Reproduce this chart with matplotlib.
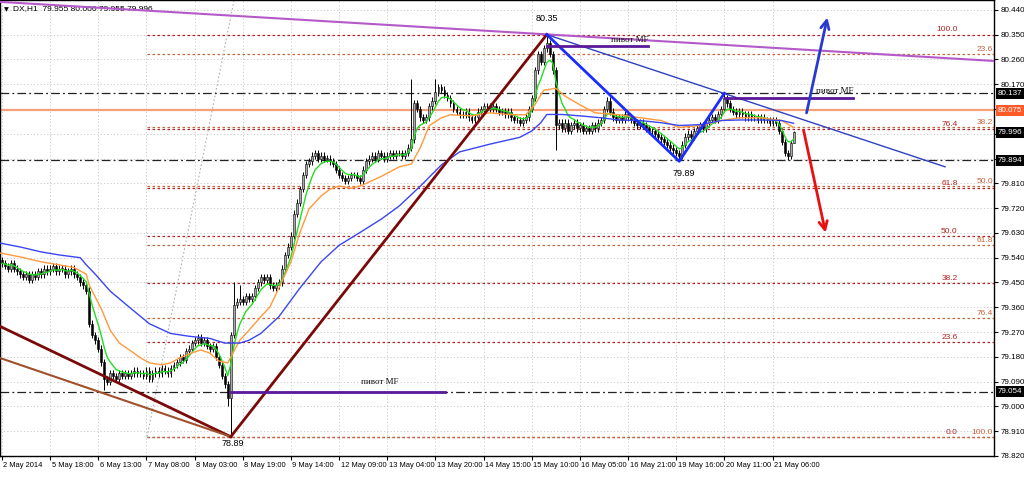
import numpy as np
import pandas as pd
import matplotlib
matplotlib.use("Agg")
import matplotlib.pyplot as plt
from matplotlib.transforms import blended_transform_factory

plt.rcParams["font.family"] = ["Liberation Sans", "DejaVu Sans"]

# ---------------- data (DX, H1) ----------------
closes = [
    79.52, 79.51, 79.50, 79.52, 79.50, 79.49, 79.48, 79.47, 79.48, 79.46,
    79.48, 79.47, 79.49, 79.48, 79.50, 79.49, 79.50, 79.51, 79.49, 79.50,
    79.50, 79.48, 79.49, 79.50, 79.48, 79.47, 79.45, 79.44, 79.42, 79.30,
    79.26, 79.24, 79.21, 79.16, 79.10, 79.09, 79.12, 79.11, 79.10, 79.12,
    79.11, 79.12, 79.11, 79.12, 79.13, 79.12, 79.12, 79.11, 79.13, 79.10,
    79.12, 79.13, 79.12, 79.14, 79.13, 79.12, 79.14, 79.15, 79.16, 79.18,
    79.17, 79.20, 79.21, 79.23, 79.24, 79.25, 79.23, 79.24, 79.22, 79.21,
    79.22, 79.18, 79.15, 79.11, 79.08, 79.03, 79.26, 79.37, 79.38, 79.39,
    79.38, 79.40, 79.39, 79.40, 79.43, 79.45, 79.47, 79.46, 79.47, 79.44,
    79.43, 79.44, 79.45, 79.50, 79.55, 79.58, 79.62, 79.70, 79.74, 79.79,
    79.84, 79.88, 79.89, 79.91, 79.92, 79.90, 79.91, 79.90, 79.90, 79.89,
    79.88, 79.86, 79.84, 79.83, 79.82, 79.83, 79.84, 79.84, 79.83, 79.82,
    79.86, 79.89, 79.90, 79.91, 79.90, 79.92, 79.91, 79.90, 79.91, 79.92,
    79.91, 79.92, 79.92, 79.91, 79.92, 79.94, 79.97, 80.10, 80.08, 80.05,
    80.04, 80.05, 80.09, 80.11, 80.14, 80.16, 80.15, 80.13, 80.12, 80.10,
    80.08, 80.07, 80.06, 80.06, 80.07, 80.05, 80.04, 80.05, 80.07, 80.08,
    80.09, 80.09, 80.08, 80.09, 80.08, 80.07, 80.07, 80.06, 80.07, 80.05,
    80.04, 80.04, 80.03, 80.04, 80.05, 80.08, 80.12, 80.22, 80.28, 80.25,
    80.30, 80.32, 80.28, 80.22, 80.02, 80.03, 80.01, 80.03, 80.00, 80.02,
    80.03, 80.01, 80.02, 80.00, 80.01, 80.00, 80.02, 80.01, 80.03, 80.04,
    80.08, 80.11, 80.07, 80.05, 80.04, 80.05, 80.04, 80.06, 80.05, 80.04,
    80.03, 80.02, 80.03, 80.02, 80.01, 80.00, 80.00, 79.99, 79.98, 79.97,
    79.96, 79.95, 79.94, 79.93, 79.92, 79.91, 79.95, 79.98, 79.99, 79.98,
    80.00, 80.01, 80.02, 80.01, 80.03, 80.04, 80.05, 80.04, 80.06, 80.08,
    80.12, 80.10, 80.08, 80.07, 80.06, 80.07, 80.06, 80.05, 80.06, 80.05,
    80.05, 80.04, 80.05, 80.04, 80.04, 80.03, 80.04, 80.03, 80.00, 79.96,
    79.92, 79.91, 79.955, 79.996,
]
first_open = 79.53
wick = 0.012
high_spikes = {76: 79.27, 77: 79.45, 79: 79.44, 136: 80.19, 144: 80.19,
               181: 80.35, 240: 80.137, 263: 80.000}
low_spikes = {34: 79.06, 75: 79.00, 76: 78.89, 184: 79.93, 225: 79.89,
              261: 79.894, 263: 79.955}

orange_bars = [-0.7, 6, 13, 19, 24, 28, 29, 33, 36, 39, 43, 46, 49, 53, 56, 59,
               63, 66, 69, 72, 75, 79, 82, 86, 89, 92, 96, 99, 102, 106, 109,
               112, 116, 119, 126, 132, 136, 139, 142, 146, 149, 156, 162, 169,
               174, 177, 180, 184, 187, 192, 197, 205, 212, 219, 225, 232, 239,
               245, 252, 259, 263]
orange_vals = [79.557, 79.543, 79.525, 79.514, 79.504, 79.48, 79.44, 79.354,
               79.276, 79.23, 79.20, 79.176, 79.158, 79.151, 79.158, 79.176,
               79.194, 79.205, 79.194, 79.165, 79.158, 79.24, 79.276, 79.326,
               79.361, 79.43, 79.525, 79.632, 79.717, 79.764, 79.789, 79.80,
               79.792, 79.80, 79.835, 79.87, 79.88, 79.94, 80.02, 80.048,
               80.059, 80.055, 80.066, 80.059, 80.059, 80.095, 80.148, 80.155,
               80.127, 80.095, 80.066, 80.059, 80.048, 80.038, 80.013, 80.02,
               80.038, 80.048, 80.048, 80.038, 80.013]
blue_bars = [-0.7, 6, 13, 19, 26, 28, 31, 36, 43, 49, 56, 62, 69, 74, 79, 82,
             86, 92, 99, 106, 112, 119, 126, 132, 139, 146, 152, 162, 172, 176,
             179, 181, 186, 192, 199, 205, 212, 219, 225, 232, 239, 245, 252,
             259, 263]
blue_vals = [79.593, 79.579, 79.561, 79.55, 79.54, 79.514, 79.48, 79.418,
             79.354, 79.30, 79.265, 79.255, 79.247, 79.23, 79.23, 79.24,
             79.265, 79.326, 79.43, 79.525, 79.585, 79.632, 79.68, 79.728,
             79.80, 79.877, 79.924, 79.952, 79.977, 80.0, 80.03, 80.06, 80.06,
             80.055, 80.048, 80.04, 80.038, 80.03, 80.02, 80.023, 80.038,
             80.04, 80.04, 80.038, 80.028]

date_ticks = list(range(0, 257, 16))
date_labels = ["2 May 2014", "5 May 18:00", "6 May 13:00", "7 May 08:00",
               "8 May 03:00", "8 May 19:00", "9 May 14:00", "12 May 09:00",
               "13 May 04:00", "13 May 20:00", "14 May 15:00", "15 May 10:00",
               "16 May 05:00", "16 May 21:00", "19 May 16:00", "20 May 11:00",
               "21 May 06:00"]
price_ticks = [80.44, 80.35, 80.26, 80.17, 80.08, 79.99, 79.90, 79.81, 79.72,
               79.63, 79.54, 79.45, 79.36, 79.27, 79.18, 79.09, 79.00, 78.91,
               78.82]
hidden_ticks = [80.08, 79.99, 79.90]

# swing points
low_bar, low_price = 76, 78.89
high_bar, high_price = 181, 80.35
mid_low_bar, mid_low_price = 225, 79.89
mid_high_bar, mid_high_price = 240, 80.137

# horizontal levels
level_dashdot = [80.137, 79.894, 79.054]
level_orange = 80.075
last_price = 79.996

# fibonacci
fib_start_bar = 48.2
fib_levels = [0.0, 23.6, 38.2, 50.0, 61.8, 76.4, 100.0]
fibA_0, fibA_100 = 78.89, 80.35
fibB_0, fibB_100 = 80.71, 78.89
fibB_diag_end_bar = 81.4

# trend lines (bar, price)
purple_line = [(-1.0, 80.469), (330.0, 80.254)]
maroon_left = [(-0.7, 79.291), (low_bar, low_price)]
sienna_left = [(-0.7, 79.176), (low_bar, low_price)]
thin_blue_end = (313.3, 79.87)
pivots = [((76, 79.054), (147.2, 79.054), (125.6, 79.087)),
          ((181, 80.31), (214.6, 80.31), (208.6, 80.332)),
          ((240.2, 80.12), (282.7, 80.12), (276.7, 80.147))]
blue_arrow = [(267.1, 80.056), (274.4, 80.422)]
red_arrow = [(266.1, 80.013), (273.8, 79.621)]

header = "DX,H1  79.955 80.000 79.955 79.996"

# ---------------- figure ----------------
W, H = 1024, 482
fig = plt.figure(figsize=(W / 100, H / 100), dpi=100)
fig.patch.set_facecolor("white")
ax = fig.add_axes([0.0, 1 - 456 / H, 994 / W, 456 / H])
ax.set_xlim(-0.66, 329.57)
ax.set_ylim(78.8522, 80.4756)

# grid
for t in date_ticks:
    ax.axvline(t, color="#c4c4c4", lw=0.6, ls=(0, (1.5, 2.5)), zorder=0)
for p in price_ticks:
    ax.axhline(p, color="#c4c4c4", lw=0.6, ls=(0, (1.5, 2.5)), zorder=0)

# fib levels
xe = 329.57
for lv in fib_levels:
    pa = fibA_0 + (fibA_100 - fibA_0) * lv / 100.0
    ax.plot([fib_start_bar, xe], [pa, pa], color="#b22222", lw=0.9,
            ls=(0, (2, 2)), zorder=1)
    ax.text(317.5, pa + 0.004, f"{lv:.1f}", color="#b22222", fontsize=6,
            ha="right", va="bottom", zorder=6)
    pb = fibB_0 + (fibB_100 - fibB_0) * lv / 100.0
    if pb < 80.47:
        ax.plot([fib_start_bar, xe], [pb, pb], color="#c8643c", lw=0.9,
                ls=(0, (2, 2)), zorder=1)
        ax.text(329.2, pb + 0.004, f"{lv:.1f}", color="#c8643c", fontsize=6,
                ha="right", va="bottom", zorder=6)
ax.plot([fib_start_bar, fibB_diag_end_bar], [fibB_100, fibB_0], color="#b0b0b0",
        lw=0.8, ls=(0, (1.5, 2)), zorder=1)

# horizontal lines
for lv in level_dashdot:
    ax.axhline(lv, color="#222222", lw=0.9, ls=(0, (7, 2.5, 1.5, 2.5)), zorder=2)
ax.axhline(level_orange, color="#f5a078", lw=1.6, zorder=2)

# candles
n = len(closes)
idx = np.arange(n)
opens = [first_open] + closes[:-1]
highs = [high_spikes.get(i, max(opens[i], closes[i]) + wick) for i in range(n)]
lows = [low_spikes.get(i, min(opens[i], closes[i]) - wick) for i in range(n)]
ax.vlines(idx, lows, highs, color="black", lw=0.7, zorder=3)
o = np.array(opens); c = np.array(closes)
bull = c >= o
bot = np.minimum(o, c); hgt = np.maximum(np.abs(c - o), 0.0015)
ax.bar(idx[bull], hgt[bull], bottom=bot[bull], width=0.62, color="#a8a8a8",
       edgecolor="black", lw=0.4, zorder=3)
ax.bar(idx[~bull], hgt[~bull], bottom=bot[~bull], width=0.62, color="black",
       edgecolor="black", lw=0.4, zorder=3)

# moving averages
green = pd.Series(closes).ewm(span=6, adjust=False).mean()
ax.plot(idx, green, color="#22dd22", lw=1.0, zorder=4)
ax.plot(orange_bars, orange_vals, color="#ff9a3c", lw=1.0, zorder=4)
ax.plot(blue_bars, blue_vals, color="#3a46f0", lw=1.0, zorder=4)

# trend lines
ax.plot(*zip(*purple_line), color="#b45ac8", lw=1.5, zorder=5)
ax.plot(*zip(*maroon_left), color="#7a0a0a", lw=2.0, zorder=5)
ax.plot(*zip(*sienna_left), color="#a0502a", lw=1.5, zorder=5)
ax.plot([low_bar, high_bar], [low_price, high_price], color="#7a0a0a", lw=2.0, zorder=5)
ax.plot([high_bar, thin_blue_end[0]], [high_price, thin_blue_end[1]],
        color="#3040c0", lw=1.0, zorder=5)
ax.plot([high_bar, mid_low_bar, mid_high_bar],
        [high_price, mid_low_price, mid_high_price], color="#1a2cff", lw=2.0, zorder=5)
for (a, b, t) in pivots:
    ax.plot([a[0], b[0]], [a[1], b[1]], color="#5a189a", lw=2.0, zorder=5)
    ax.text(t[0], t[1], "пивот MF", fontsize=6.5, family="Liberation Serif",
            ha="center", va="center", color="#111111", zorder=6)

ax.annotate("", xy=blue_arrow[1], xytext=blue_arrow[0],
            arrowprops=dict(arrowstyle="->,head_length=0.6,head_width=0.3",
                            color="#2a3ad0", lw=2.0), zorder=6)
ax.annotate("", xy=red_arrow[1], xytext=red_arrow[0],
            arrowprops=dict(arrowstyle="->,head_length=0.6,head_width=0.3",
                            color="#e81010", lw=2.0), zorder=6)

# swing labels
ax.text(high_bar, 80.408, f"{high_price:.2f}", fontsize=6.5, ha="center", va="center")
ax.text(226.6, 79.845, f"{mid_low_price:.2f}", fontsize=6.5, ha="center", va="center")
ax.text(76.7, 78.866, f"{low_price:.2f}", fontsize=6.5, ha="center", va="center")

# axes styling
for s in ax.spines.values():
    s.set_color("black"); s.set_linewidth(1.0)
ax.yaxis.tick_right()
ax.set_yticks(price_ticks)
ax.set_yticklabels(["" if p in hidden_ticks else f"{p:.3f}" for p in price_ticks])
ax.tick_params(axis="y", direction="out", length=3, pad=1.5, labelsize=5.8,
               colors="black")
ax.set_xticks(date_ticks)
ax.set_xticklabels([])
ax.tick_params(axis="x", direction="out", length=3)
tb = blended_transform_factory(ax.transData, ax.transAxes)
for t, lab in zip(date_ticks, date_labels):
    ax.text(t + 0.5, -0.014, lab, transform=tb, fontsize=5.4, ha="left",
            va="top", color="black", clip_on=False)

# price boxes on the right axis
tr = blended_transform_factory(ax.transAxes, ax.transData)
for lv in level_dashdot + [last_price]:
    ax.text(1.004, lv, f"{lv:.3f}", transform=tr, fontsize=5.8, color="white",
            ha="left", va="center", clip_on=False,
            bbox=dict(boxstyle="square,pad=0.25", fc="black", ec="none"))
ax.text(1.004, level_orange, f"{level_orange:.3f}", transform=tr, fontsize=5.8,
        color="white", ha="left", va="center", clip_on=False,
        bbox=dict(boxstyle="square,pad=0.25", fc="#ff5a28", ec="none"))

# header
ax.text(0.004, 0.985, "\u25bc", transform=ax.transAxes, fontsize=4.5,
        ha="left", va="top", family="DejaVu Sans")
ax.text(0.013, 0.988, header, transform=ax.transAxes, fontsize=6,
        ha="left", va="top")

fig.savefig("out.png", dpi=100)
